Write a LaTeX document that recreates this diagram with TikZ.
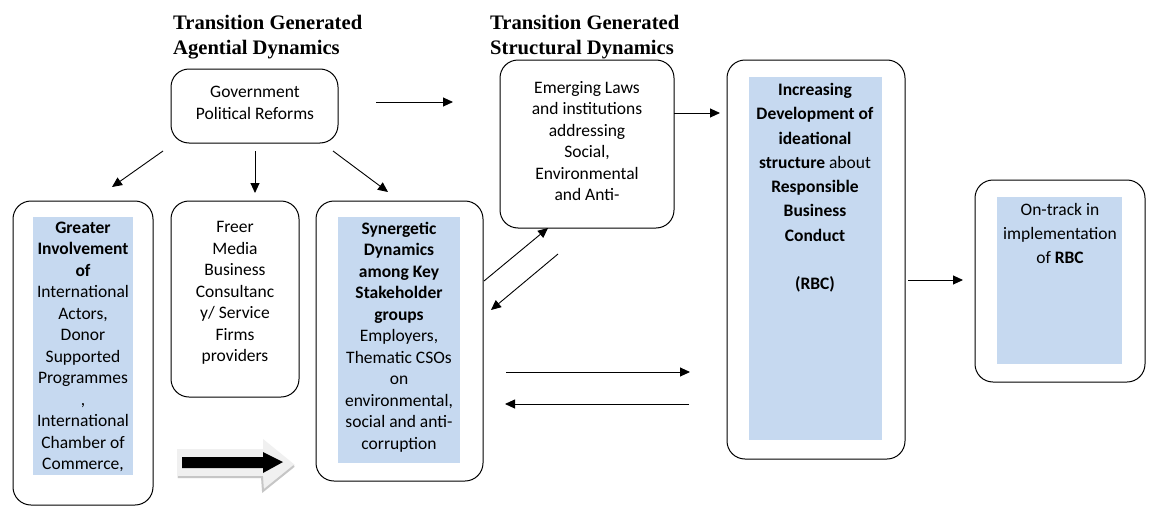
\documentclass[tikz,border=0pt]{standalone}
\usepackage{fontspec}
\setmainfont{Carlito}
\newfontfamily\headfont{Liberation Serif}
\usetikzlibrary{arrows.meta}
\definecolor{hl}{RGB}{198,217,240}
\begin{document}
\begin{tikzpicture}[x=1pt,y=-1pt,
  box/.style={draw, line width=1pt, rounded corners=18pt, rectangle, inner sep=0pt},
  hlbox/.style={fill=hl, rectangle, inner sep=0pt},
  txt/.style={font=\fontsize{17.5}{21.5}\selectfont, align=center, anchor=north, inner sep=0pt},
  txtb/.style={font=\fontsize{17.5}{24.3}\selectfont, align=center, anchor=north, inner sep=0pt},
  head/.style={font=\headfont\bfseries\fontsize{20.6}{25}\selectfont, align=left, anchor=north west, inner sep=0pt},
  arr/.style={-{Triangle[length=10pt,width=9pt]}, line width=0.9pt}]
\useasboundingbox[fill=white] (0,0) rectangle (1151,506);

% headings
\node[head] (h1) at (173,15) {Transition Generated\\Agential Dynamics};
\node[head] (h2) at (490,15) {Transition Generated\\Structural Dynamics};

% boxes
\node[box, minimum width=167pt, minimum height=74pt] (gov) at (254.5,106) {};
\node[box, minimum width=140pt, minimum height=304pt] (greater) at (83,353) {};
\node[box, minimum width=128pt, minimum height=196pt] (freer) at (235,299) {};
\node[box, minimum width=167pt, minimum height=280pt] (syn) at (399.5,341) {};
\node[box, minimum width=174pt, minimum height=168pt] (emerg) at (587,144) {};
\node[box, minimum width=178pt, minimum height=399pt] (incr) at (816,259.5) {};
\node[box, minimum width=170pt, minimum height=202pt] (ontrack) at (1060,281) {};

% highlight fills
\node[hlbox, minimum width=100pt, minimum height=258pt] (greaterhl) at (83,346) {};
\node[hlbox, minimum width=122pt, minimum height=246pt] (synhl) at (399,340) {};
\node[hlbox, minimum width=133pt, minimum height=363pt] (incrhl) at (815.5,258.5) {};
\node[hlbox, minimum width=125pt, minimum height=167pt] (ontrackhl) at (1059.5,280.5) {};

% texts
\node[txt] (govt) at (255,86) {Government\\Political Reforms};
\node[txt] (greatert) at (83,221.5) {\textbf{Greater}\\\textbf{Involvement}\\\textbf{of}\\International\\Actors,\\Donor\\Supported\\Programmes\\,\\International\\Chamber of\\Commerce,};
\node[txt] (freert) at (235,221.5) {Freer\\Media\\Business\\Consultanc\\y/ Service\\Firms\\providers};
\node[txt] (synt) at (399,221.5) {\textbf{Synergetic}\\\textbf{Dynamics}\\\textbf{among Key}\\\textbf{Stakeholder}\\\textbf{groups}\\Employers,\\Thematic CSOs\\on\\environmental,\\social and anti-\\corruption};
\node[txt] (emergt) at (587,81) {Emerging Laws\\and institutions\\addressing\\Social,\\Environmental\\and Anti-};
\node[txtb] (incrt) at (815,83) {\textbf{Increasing}\\\textbf{Development of}\\\textbf{ideational}\\\textbf{structure} about\\\textbf{Responsible}\\\textbf{Business}\\\textbf{Conduct}\\\mbox{}\\\textbf{(RBC)}};
\node[txtb] (ontrackt) at (1060,203) {On-track in\\implementation\\of \textbf{RBC}};

% arrow end coordinates
\coordinate (g1) at (376,102); \coordinate (g2) at (453,102);
\coordinate (d1s) at (163,151); \coordinate (d1e) at (112,187);
\coordinate (d2s) at (255,151); \coordinate (d2e) at (255,193);
\coordinate (d3s) at (333,151); \coordinate (d3e) at (388,192);
\coordinate (e1s) at (674,113); \coordinate (e1e) at (720,113);
\coordinate (i1s) at (908,280); \coordinate (i1e) at (963,280);
\coordinate (s1s) at (484,281); \coordinate (s1e) at (548,228);
\coordinate (s2s) at (558,254); \coordinate (s2e) at (491,310);
\coordinate (h1s) at (506,372); \coordinate (h1e) at (690,372);
\coordinate (h2s) at (689,404); \coordinate (h2e) at (505,404);

\draw[arr] (g1) -- (g2);
\draw[arr] (d1s) -- (d1e);
\draw[arr] (d2s) -- (d2e);
\draw[arr] (d3s) -- (d3e);
\draw[arr] (e1s) -- (e1e);
\draw[arr] (i1s) -- (i1e);
\draw[arr] (s1s) -- (s1e);
\draw[arr] (s2s) -- (s2e);
\draw[arr] (h1s) -- (h1e);
\draw[arr] (h2s) -- (h2e);

% block arrow with shadow
\fill[gray!12] (177,449) -- (263,449) -- (263,439) -- (295,465) -- (263,492) -- (263,478) -- (177,478) -- cycle;
\draw[gray!45, line width=2pt] (178,477) -- (262,477) -- (263,491) -- (294,466);
\fill[black] (182,457) -- (263,457) -- (263,452) -- (283,462) -- (263,473) -- (263,468) -- (182,468) -- cycle;
\end{tikzpicture}
\end{document}
